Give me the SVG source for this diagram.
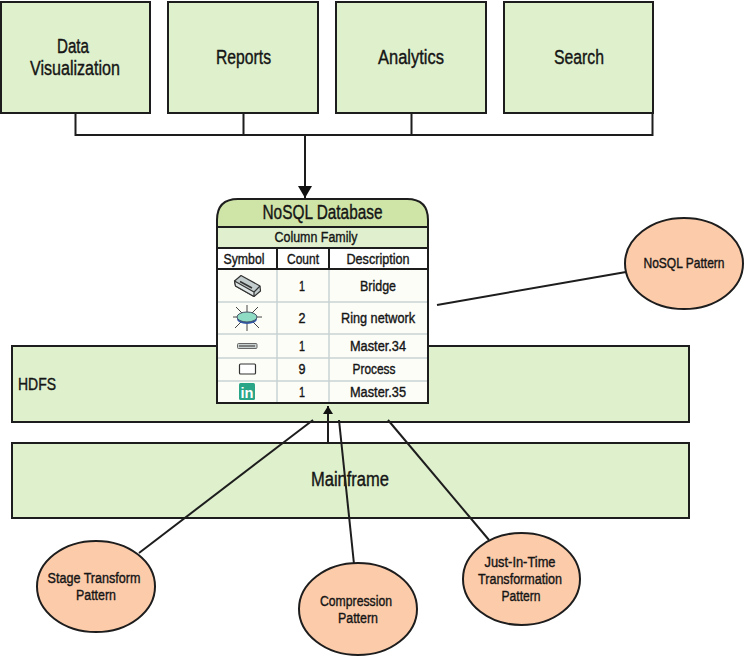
<svg xmlns="http://www.w3.org/2000/svg" width="744" height="656" viewBox="0 0 744 656">
<style>
  text { font-family: "Liberation Sans", Arial, sans-serif; fill: #151515; stroke: #151515; stroke-width: 0.4; text-anchor: middle; }
  .box { fill: #dff0cd; stroke: #1d1d1d; stroke-width: 2; }
  .oval { fill: #fccbaa; stroke: #1d1d1d; stroke-width: 2; }
  .line { fill: none; stroke: #1d1d1d; stroke-width: 2; }
  .grid { fill: none; stroke: #c9d3d3; stroke-width: 1.5; }
  .big { font-size: 20px; }
  .mid { font-size: 17px; }
  .small { font-size: 15.5px; }
</style>
<defs>
  <marker id="head" markerUnits="userSpaceOnUse" markerWidth="14" markerHeight="14" refX="13" refY="7" orient="auto" viewBox="0 0 14 14">
    <path d="M1 0 L13 7 L1 14 Z" fill="#111"/>
  </marker>
  <marker id="head-small" markerUnits="userSpaceOnUse" markerWidth="10" markerHeight="10" refX="9" refY="5" orient="auto" viewBox="0 0 10 10">
    <path d="M1 0 L9 5 L1 10 Z" fill="#111"/>
  </marker>
</defs>
<rect width="744" height="656" fill="#ffffff"/>

<g id="hdfs"><rect class="box" x="12" y="346" width="677" height="76"/><text class="mid" x="37" y="390" textLength="38" lengthAdjust="spacingAndGlyphs">HDFS</text></g>
<g id="mainframe"><rect class="box" x="12" y="443" width="677" height="75"/><text class="big" x="350" y="486" textLength="78" lengthAdjust="spacingAndGlyphs">Mainframe</text></g>

<g id="data-visualization"><rect class="box" x="1" y="2" width="149" height="111"/><text class="big" x="73" y="53" textLength="32" lengthAdjust="spacingAndGlyphs">Data</text><text class="big" x="75" y="75" textLength="90" lengthAdjust="spacingAndGlyphs">Visualization</text></g>
<g id="reports"><rect class="box" x="168" y="2" width="150" height="111"/><text class="big" x="243.500" y="64" textLength="55" lengthAdjust="spacingAndGlyphs">Reports</text></g>
<g id="analytics"><rect class="box" x="336" y="2" width="150" height="111"/><text class="big" x="411" y="64" textLength="66" lengthAdjust="spacingAndGlyphs">Analytics</text></g>
<g id="search"><rect class="box" x="504" y="2" width="149" height="111"/><text class="big" x="579" y="64" textLength="50" lengthAdjust="spacingAndGlyphs">Search</text></g>

<g id="connectors">
  <path class="line" d="M75.500 113V135H652.500V113M243.500 113V135M411.500 113V135"/>
  <path class="line" d="M305 135V198" marker-end="url(#head)"/>
  <path class="line" d="M328 443V406" marker-end="url(#head-small)"/>
  <path class="line" d="M437 305L626 272"/>
  <path class="line" d="M139 553L313 420"/>
  <path class="line" d="M354 564L339 420"/>
  <path class="line" d="M388 420L489 540"/>
</g>

<g id="nosql-database">
  <path d="M217 403V227H428V403Z" fill="#fdfdf8"/>
  <path d="M217 227V220Q217 199 238 199H407Q428 199 428 220V227Z" fill="#cfe5a8"/>
  <rect x="217" y="227" width="211" height="21" fill="#e0f0cf"/>
  <rect x="217" y="248" width="211" height="21" fill="#ffffff"/>
  <path class="grid" d="M217 302H428M217 334H428M217 358H428M217 381H428M277 269V403M329 269V403"/>
  <path class="line" d="M217 227V220Q217 199 238 199H407Q428 199 428 220V403H217ZM217 227H428M217 248H428M217 269H428M277 248V269M329 248V269"/>
  <text x="322.500" y="219" font-size="20" textLength="120" lengthAdjust="spacingAndGlyphs">NoSQL Database</text>
  <text class="small" x="316" y="242" textLength="83" lengthAdjust="spacingAndGlyphs">Column Family</text>
  <text class="small" x="244" y="264" textLength="41" lengthAdjust="spacingAndGlyphs">Symbol</text>
  <text class="small" x="303" y="264" textLength="32" lengthAdjust="spacingAndGlyphs">Count</text>
  <text class="small" x="378" y="264" textLength="63" lengthAdjust="spacingAndGlyphs">Description</text>
  <text class="small" x="302" y="291" textLength="6" lengthAdjust="spacingAndGlyphs">1</text>
  <text class="small" x="378" y="291" textLength="36" lengthAdjust="spacingAndGlyphs">Bridge</text>
  <text class="small" x="302" y="323" textLength="7" lengthAdjust="spacingAndGlyphs">2</text>
  <text class="small" x="378" y="323" textLength="74" lengthAdjust="spacingAndGlyphs">Ring network</text>
  <text class="small" x="302" y="351" textLength="6" lengthAdjust="spacingAndGlyphs">1</text>
  <text class="small" x="378" y="351" textLength="56" lengthAdjust="spacingAndGlyphs">Master.34</text>
  <text class="small" x="302" y="374" textLength="7" lengthAdjust="spacingAndGlyphs">9</text>
  <text class="small" x="374" y="374" textLength="43" lengthAdjust="spacingAndGlyphs">Process</text>
  <text class="small" x="302" y="397" textLength="6" lengthAdjust="spacingAndGlyphs">1</text>
  <text class="small" x="378" y="397" textLength="56" lengthAdjust="spacingAndGlyphs">Master.35</text>
  <!-- row symbols -->
  <g id="symbol-bridge" stroke="#333" stroke-width="1.200" stroke-linejoin="round">
    <path d="M234.500 281L241 275.500L260 286L260.500 291L254 296.500L235.500 286Z" fill="#c3cccc"/>
    <path d="M235.500 286L234.500 281L254 292L254 296.500Z" fill="#dfe5e5"/>
    <path d="M254 292L260 286" fill="none"/>
    <path d="M240 281.500L252 288" stroke-width="1.500" fill="none"/>
  </g>
  <g id="symbol-ring" stroke="#444" stroke-width="1">
    <path d="M247 305V313M247 324V331M236 307L242 313M258 307L252 313M233 317H238M256 317H262M235 328L241 322M259 328L253 322" fill="none"/>
    <ellipse cx="247" cy="319" rx="10" ry="5" fill="#2f55a8" stroke="none"/>
    <ellipse cx="247" cy="317" rx="10" ry="5" fill="#8fdcc4" stroke="#456"/>
  </g>
  <g id="symbol-master">
    <rect x="237.500" y="343.500" width="19.500" height="5" rx="1" fill="#c8d0d0" stroke="#666"/>
    <path d="M239 346H255" stroke="#666" stroke-width="1.500"/>
  </g>
  <rect id="symbol-process" x="239.500" y="364" width="16" height="10" rx="1" fill="#fff" stroke="#333" stroke-width="1.200"/>
  <g id="symbol-linkedin">
    <rect x="239" y="383" width="16" height="17" rx="1.500" fill="#2aa587"/>
    <text x="247" y="398" font-size="15" font-weight="700" style="fill:#fff;stroke:none" textLength="13" lengthAdjust="spacingAndGlyphs">in</text>
  </g>
</g>

<g id="nosql-pattern"><ellipse class="oval" cx="684" cy="263.500" rx="59" ry="45.500"/><text x="684" y="268" font-size="14.5" textLength="81" lengthAdjust="spacingAndGlyphs">NoSQL Pattern</text></g>
<g id="stage-transform"><ellipse class="oval" cx="96" cy="586.500" rx="59" ry="45.500"/><text class="small" x="94" y="583" textLength="93" lengthAdjust="spacingAndGlyphs">Stage Transform</text><text class="small" x="96" y="600" textLength="40" lengthAdjust="spacingAndGlyphs">Pattern</text></g>
<g id="compression"><ellipse class="oval" cx="358" cy="609" rx="59" ry="46"/><text class="small" x="356" y="606" textLength="72" lengthAdjust="spacingAndGlyphs">Compression</text><text class="small" x="358" y="623" textLength="40" lengthAdjust="spacingAndGlyphs">Pattern</text></g>
<g id="just-in-time"><ellipse class="oval" cx="521.500" cy="579" rx="58.500" ry="46"/><text class="small" x="520" y="567" textLength="71" lengthAdjust="spacingAndGlyphs">Just-In-Time</text><text class="small" x="520" y="584" textLength="84" lengthAdjust="spacingAndGlyphs">Transformation</text><text class="small" x="521" y="601" textLength="39" lengthAdjust="spacingAndGlyphs">Pattern</text></g>
</svg>
